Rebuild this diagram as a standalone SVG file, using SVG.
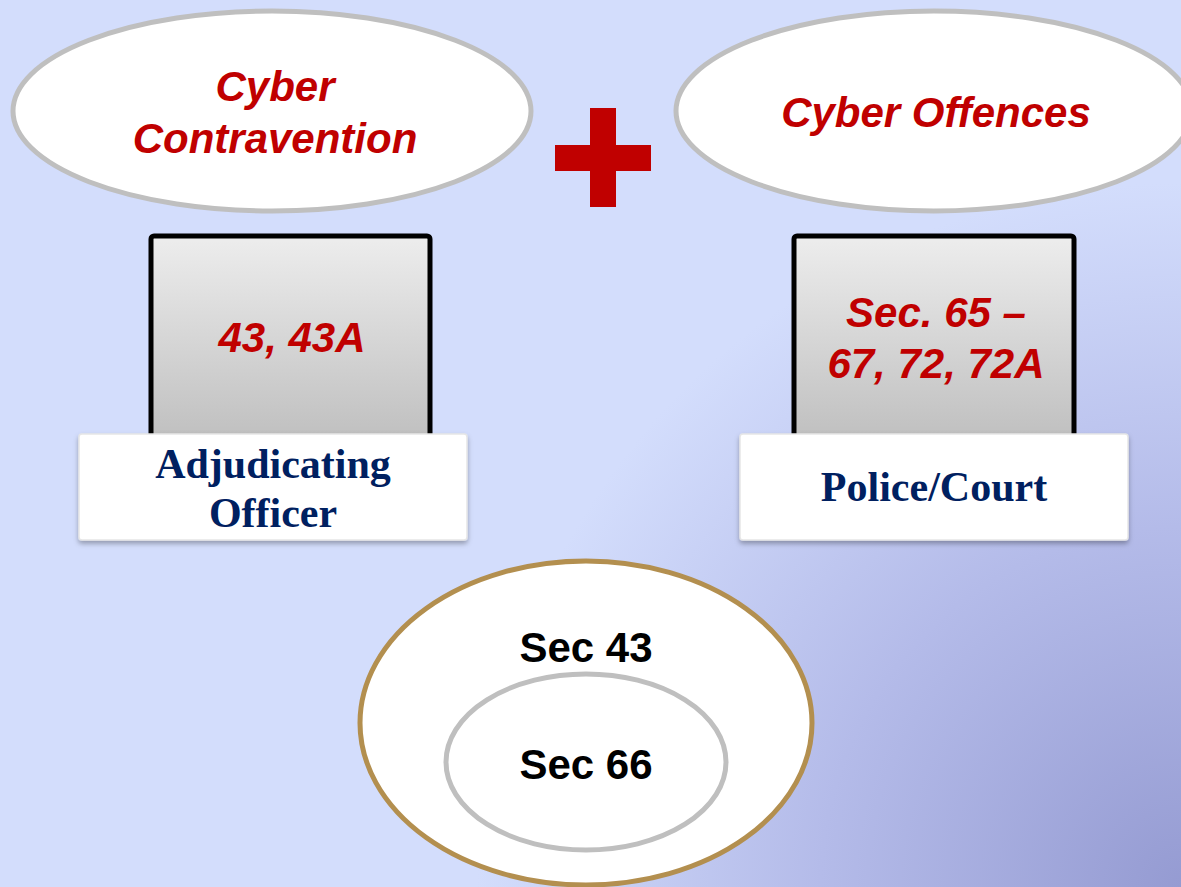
<svg xmlns="http://www.w3.org/2000/svg" width="1181" height="887" viewBox="0 0 1181 887">
<defs>
<radialGradient id="bg" cx="1181" cy="887" r="800" gradientUnits="userSpaceOnUse">
<stop offset="0" stop-color="#959bd2"/>
<stop offset="0.45" stop-color="#b4bbe9"/>
<stop offset="0.88" stop-color="#d3ddfc"/>
</radialGradient>
<linearGradient id="boxg" x1="0" y1="0" x2="0" y2="1">
<stop offset="0" stop-color="#ededed"/>
<stop offset="1" stop-color="#bdbdbd"/>
</linearGradient>
<filter id="sh" x="-10%" y="-10%" width="120%" height="130%">
<feDropShadow dx="0" dy="3" stdDeviation="2.5" flood-color="#000" flood-opacity="0.3"/>
</filter>
</defs>
<style>
.ell{fill:#fff;stroke:#bfbfbf;stroke-width:5}
.red{font-family:"Liberation Sans",Arial,sans-serif;font-weight:bold;font-style:italic;font-size:42px;fill:#c00000;text-anchor:middle}
.box{fill:url(#boxg);stroke:#000;stroke-width:5}
.lab{fill:#fff;stroke:#e6e6e6;stroke-width:1.5;filter:url(#sh)}
.blue{font-family:"Liberation Serif","Times New Roman",serif;font-weight:bold;font-size:42px;fill:#002060;text-anchor:middle}
.blk{font-family:"Liberation Sans",Arial,sans-serif;font-weight:bold;font-size:42px;fill:#000;text-anchor:middle}
</style>
<rect width="1181" height="887" fill="url(#bg)"/>
<g id="cyber-contravention">
<ellipse class="ell" cx="272" cy="111" rx="259" ry="100"/>
<text class="red" x="275" y="101">Cyber</text>
<text class="red" x="275" y="153">Contravention</text>
</g>
<g id="plus">
<rect x="590" y="108" width="26" height="99" fill="#c00000"/>
<rect x="555" y="145" width="96" height="26" fill="#c00000"/>
</g>
<g id="cyber-offences">
<ellipse class="ell" cx="934" cy="111" rx="258" ry="100"/>
<text class="red" x="936" y="127">Cyber Offences</text>
</g>
<g id="box-left">
<rect class="box" x="151" y="236" width="279" height="215" rx="3"/>
<text class="red" x="292" y="352">43, 43A</text>
</g>
<g id="label-left">
<rect class="lab" x="79" y="434" width="388" height="106" rx="3"/>
<text class="blue" x="273" y="478">Adjudicating</text>
<text class="blue" x="273" y="527">Officer</text>
</g>
<g id="box-right">
<rect class="box" x="794" y="236" width="280" height="215" rx="3"/>
<text class="red" x="936" y="327">Sec. 65 –</text>
<text class="red" x="936" y="378">67, 72, 72A</text>
</g>
<g id="label-right">
<rect class="lab" x="740" y="434" width="388" height="106" rx="3"/>
<text class="blue" x="934" y="501">Police/Court</text>
</g>
<g id="sec43">
<ellipse cx="586" cy="723" rx="226" ry="162" fill="#fff" stroke="#b38f4f" stroke-width="5"/>
<text class="blk" x="586" y="662">Sec 43</text>
</g>
<g id="sec66">
<ellipse class="ell" cx="586" cy="762" rx="140" ry="88"/>
<text class="blk" x="586" y="779">Sec 66</text>
</g>
<g id="connectors"/>
</svg>
